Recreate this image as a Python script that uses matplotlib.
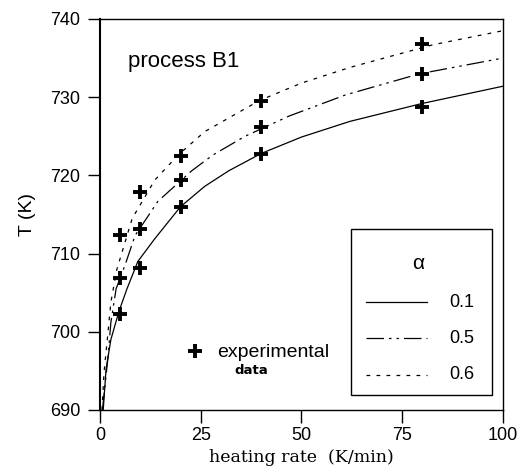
import matplotlib
matplotlib.use("Agg")
import matplotlib.pyplot as plt
from matplotlib.patches import Rectangle
from matplotlib.lines import Line2D

# experimental data
rate_exp = [5, 10, 20, 40, 80]
T_exp_01 = [702.3, 708.2, 716.0, 722.7, 728.7]
T_exp_05 = [706.9, 713.2, 719.4, 726.2, 733.0]
T_exp_06 = [712.4, 717.9, 722.5, 729.5, 736.8]

# model curves
x_01 = [0.8, 1.5, 2.7, 4.7, 6.7, 9.4, 13.6, 20, 26, 32, 40, 50, 62, 80, 100]
T_01 = [690.0, 695.2, 699.0, 702.6, 705.5, 709.0, 711.9, 716.0, 718.6, 720.6, 722.8, 724.9, 726.9, 729.2, 731.4]
x_05 = [0.6, 2, 2.7, 4, 6.2, 8.7, 14.4, 22.8, 28, 36, 47, 61, 79.4, 100]
T_05 = [690.0, 696.8, 701.2, 705.5, 708.5, 712.3, 716.7, 720.6, 722.6, 725.0, 727.6, 730.3, 733.0, 735.0]
x_06 = [0.5, 1, 2, 2.7, 4.2, 8, 13.6, 19.4, 26, 39.7, 50, 62, 82.6, 100]
T_06 = [690.0, 694.8, 700.0, 703.8, 708.0, 714.5, 719.4, 722.6, 725.6, 729.6, 731.8, 733.8, 736.7, 738.5]

alpha_labels = ["0.1", "0.5", "0.6"]
x_ticks = [0, 25, 50, 75, 100]
y_ticks = [690, 700, 710, 720, 730, 740]

plt.rcParams['font.family'] = ['Liberation Sans', 'DejaVu Sans']

fig = plt.figure(figsize=(5.2, 4.7), dpi=100)
ax = fig.add_axes([0.1923, 0.1277, 0.967 - 0.1923, 0.9596 - 0.1277])

dashdot = (0, (14, 4, 2, 4, 2, 4))
dotted = (0, (3, 5))
styles = ['-', dashdot, dotted]

ax.plot(x_01, T_01, color='black', lw=0.9, ls=styles[0])
ax.plot(x_05, T_05, color='black', lw=0.9, ls=styles[1])
ax.plot(x_06, T_06, color='black', lw=0.9, ls=styles[2])

for T in (T_exp_01, T_exp_05, T_exp_06):
    ax.plot(rate_exp, T, ls='none', marker='+', ms=10, mew=2.8, color='black')

ax.set_xlim(0, 100)
ax.set_ylim(690, 740)
ax.set_xticks(x_ticks)
ax.set_yticks(y_ticks)
ax.tick_params(direction='out', length=9, width=1, labelsize=13, colors='black')
ax.tick_params(axis='y', pad=5)
ax.tick_params(axis='x', pad=3)
for s in ax.spines.values():
    s.set_linewidth(1.0)
ax.spines['left'].set_linewidth(1.5)

ax.set_ylabel('T (K)', fontsize=14, labelpad=10)
ax.set_xlabel('heating rate  (K/min)', fontsize=12.5, family='DejaVu Serif', labelpad=4)

ax.text(0.07, 0.89, 'process B1', transform=ax.transAxes, fontsize=16, va='center', ha='left')

# experimental data note
ax.plot([23.6], [697.5], ls='none', marker='+', ms=10, mew=2.8, color='black')
ax.text(0.29, 0.148, 'experimental', transform=ax.transAxes, fontsize=14, va='center', ha='left')
ax.text(0.376, 0.1, 'data', transform=ax.transAxes, fontsize=9.5, fontweight='bold',
        family='DejaVu Sans', va='center', ha='center')

# legend box
x0, x1, y0, y1 = 0.623, 0.973, 0.038, 0.463
ax.add_patch(Rectangle((x0, y0), x1 - x0, y1 - y0, transform=ax.transAxes,
                       fill=False, ec='black', lw=1.0))
ax.text(0.79, 0.375, 'α', transform=ax.transAxes, fontsize=15, ha='center', va='center')
leg_y = [0.276, 0.184, 0.09]
for yy, st, lab in zip(leg_y, styles, alpha_labels):
    ax.add_line(Line2D([0.661, 0.811], [yy, yy], transform=ax.transAxes,
                       color='black', lw=0.9, ls=st))
    ax.text(0.868, yy, lab, transform=ax.transAxes, fontsize=13, ha='left', va='center')

fig.savefig('out.png', dpi=100)
